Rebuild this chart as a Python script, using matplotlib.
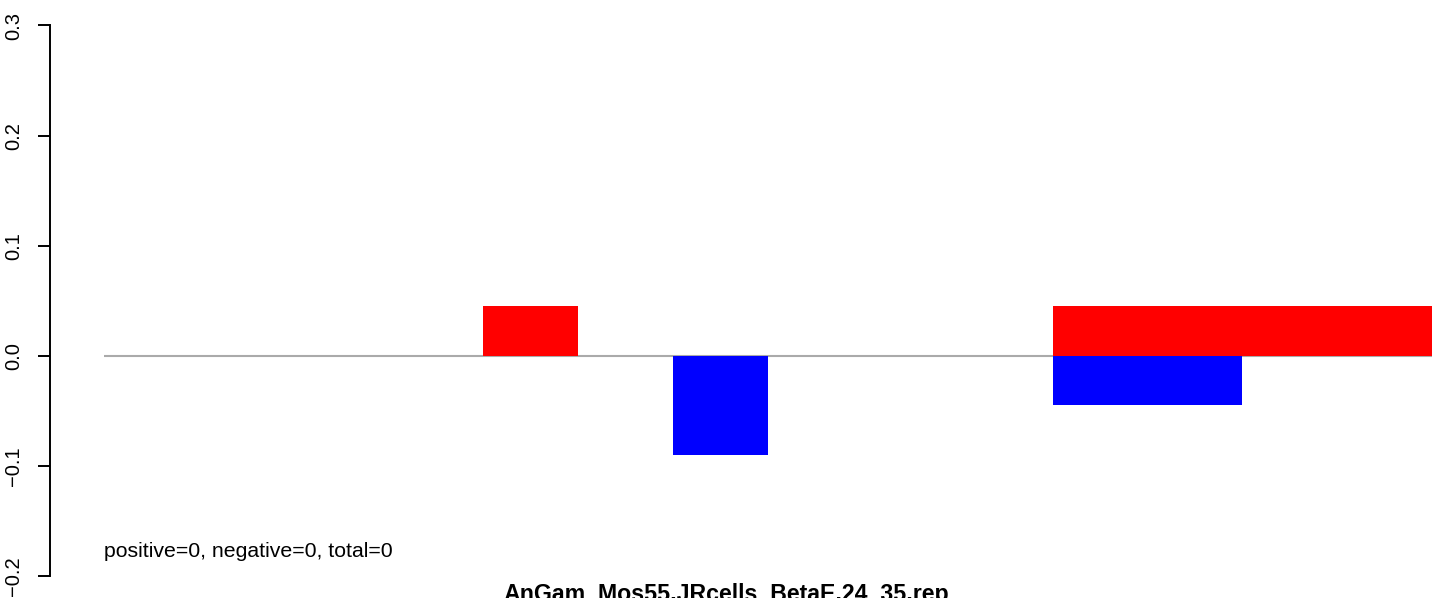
import numpy as np
import matplotlib
matplotlib.use('Agg')
import matplotlib.pyplot as plt

plt.rcParams['font.family'] = ['Liberation Sans', 'DejaVu Sans']

# one slot per bin, red = positive, blue = negative
slots = np.arange(14)
pos_vals = [0, 0, 0, 0, 0.045, 0, 0, 0, 0, 0, 0.045, 0.045, 0.045, 0.045]
neg_vals = [0, 0, 0, 0, 0, 0, -0.09, 0, 0, 0, -0.045, -0.045, 0, 0]
yticks = [-0.2, -0.1, 0.0, 0.1, 0.2, 0.3]
title = 'AnGam_Mos55.JRcells_BetaE.24_35.rep'
note = 'positive=0, negative=0, total=0'

W, H = 1436, 598
fig = plt.figure(figsize=(W / 100, H / 100), dpi=100)
ax = fig.add_axes([104 / W, (H - 576) / H, 1328 / W, 550.5 / H])

# spine position resets ticks, so set it first
for s in ['top', 'right', 'bottom']:
    ax.spines[s].set_visible(False)
ax.spines['left'].set_position(('outward', 38.9))
ax.spines['left'].set_linewidth(1.4)

ax.axhline(0, color='#aaaaaa', lw=1.5, zorder=1)
ax.bar(slots, pos_vals, width=1.0, align='edge', color='red', lw=0, zorder=2)
ax.bar(slots, neg_vals, width=1.0, align='edge', color='blue', lw=0, zorder=2)

ax.set_xlim(0, 14)
ax.set_ylim(-0.2, 0.3)
ax.set_xticks([])
ax.set_yticks(yticks)
ax.set_yticklabels(['%.1f' % v if v >= 0 else '\u2212%.1f' % -v for v in yticks],
                   rotation=90, va='center', ha='right')
ax.tick_params(axis='y', length=8.6, width=1.4, pad=11, labelsize=14.5)

ax.text(0, -0.183, note, fontsize=15.3, va='baseline', ha='left')
fig.text(726 / W, 1 - 583 / H, title, fontsize=16.7, fontweight='bold',
         ha='center', va='top')

fig.savefig('out.png', dpi=100)
